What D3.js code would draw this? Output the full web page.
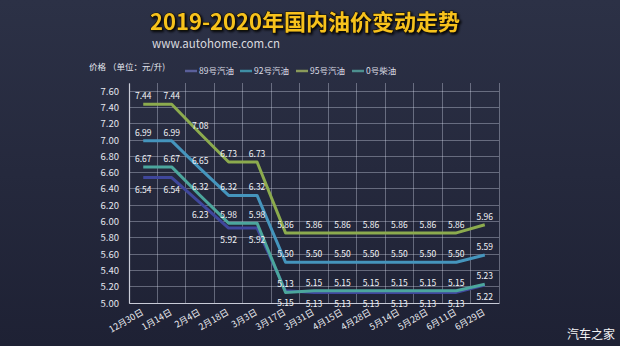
<!DOCTYPE html>
<html><head><meta charset="utf-8">
<script src="https://cdn.jsdelivr.net/npm/d3@7/dist/d3.min.js"></script>
<style>
html,body{margin:0;padding:0;background:#23273a;}
svg{display:block;}
text{font-family:"Noto Sans CJK SC","Noto Sans",sans-serif;}
</style></head>
<body>
<svg id="c" width="620" height="346"></svg>
<script>
const categories = ["12月30日","1月14日","2月4日","2月18日","3月3日","3月17日","3月31日","4月15日","4月28日","5月14日","5月28日","6月11日","6月29日"];
const seriesNames = ["89号汽油","92号汽油","95号汽油","0号柴油"];
const gas89  = [6.54,6.54,6.23,5.92,5.92,5.15,5.13,5.13,5.13,5.13,5.13,5.13,5.22];
const gas92  = [6.99,6.99,6.65,6.32,6.32,5.50,5.50,5.50,5.50,5.50,5.50,5.50,5.59];
const gas95  = [7.44,7.44,7.08,6.73,6.73,5.86,5.86,5.86,5.86,5.86,5.86,5.86,5.96];
const diesel = [6.67,6.67,6.32,5.98,5.98,5.13,5.15,5.15,5.15,5.15,5.15,5.15,5.23];
const yTicks = [5.00,5.20,5.40,5.60,5.80,6.00,6.20,6.40,6.60,6.80,7.00,7.20,7.40,7.60];
const titleText = "2019-2020年国内油价变动走势";
const subTitle = "www.autohome.com.cn";
const yAxisName = "价格 （单位：元/升)";
const watermark = "汽车之家";

const colors = ["#3f479c","#4595bd","#8cab4e","#4ca69d"];
const legendColors = ["#5a5f9a","#3f8ea5","#8a9a5a","#4d8f8f"];
const labelBelow = [true,false,false,false];

(function(){
const svg = d3.select("#c");
const defs = svg.append("defs");
const g = defs.append("linearGradient").attr("id","bg").attr("x1",0).attr("y1",0).attr("x2",0).attr("y2",1);
g.append("stop").attr("offset","0").attr("stop-color","#2c3146");
g.append("stop").attr("offset","1").attr("stop-color","#1e2134");
svg.append("rect").attr("width",620).attr("height",346).attr("fill","url(#bg)");
const sh = defs.append("filter").attr("id","ts").attr("x","-5%").attr("y","-20%").attr("width","110%").attr("height","150%");
sh.append("feDropShadow").attr("dx",1.5).attr("dy",1.5).attr("stdDeviation",1).attr("flood-color","#000").attr("flood-opacity",0.9);

svg.append("text").attr("x",150).attr("y",30).attr("font-size",22).attr("font-weight","bold")
  .attr("fill","#f7c21d").attr("stroke","#1a1408").attr("stroke-width",1.2).attr("paint-order","stroke")
  .attr("filter","url(#ts)").text(titleText);
svg.append("text").attr("x",152).attr("y",48).attr("font-size",11.5).attr("fill","#d9d9df").text(subTitle);

const pL=129, pR=499, pT=83, pB=303;
const x = d3.scaleBand().domain(categories).range([pL,pR]).padding(0);
const y = d3.scaleLinear().domain([5.0,7.7]).range([pB,pT]);
const cx = c => x(c)+x.bandwidth()/2;

const grid = svg.append("g");
grid.selectAll(".h").data(yTicks).join("line")
  .attr("x1",pL).attr("x2",pR).attr("y1",d=>y(d)).attr("y2",d=>y(d))
  .attr("stroke","rgba(220,225,240,0.36)").attr("stroke-width",1).attr("shape-rendering","crispEdges");
const vb = categories.map(c=>x(c)).concat([pR]);
grid.selectAll(".v").data(vb).join("line")
  .attr("x1",d=>d).attr("x2",d=>d).attr("y1",pT).attr("y2",pB)
  .attr("stroke","rgba(220,225,240,0.36)").attr("stroke-width",1).attr("shape-rendering","crispEdges");

const yAxis = d3.axisLeft(y).tickValues(yTicks).tickFormat(d3.format(".2f")).tickSize(0).tickPadding(10);
const ya = svg.append("g").attr("transform",`translate(${pL},0)`).call(yAxis);
ya.select(".domain").attr("stroke","#c9ccd8").attr("stroke-width",1.2);
ya.selectAll("text").attr("fill","#e4e6ee").attr("font-size",9.5).attr("font-family","'Noto Sans CJK SC',sans-serif");

const xAxis = d3.axisBottom(x).tickSize(0).tickPadding(0);
const xa = svg.append("g").attr("transform",`translate(0,${pB})`).call(xAxis);
xa.select(".domain").attr("stroke","#c9ccd8").attr("stroke-width",1.2);
xa.selectAll("text").attr("fill","#eceef3").attr("font-size",9).attr("font-family","'Noto Sans CJK SC',sans-serif")
  .attr("text-anchor","end").attr("dy",0).attr("y",0)
  .attr("transform","translate(1,11) rotate(-30)");

svg.append("text").attr("x",89).attr("y",70).attr("font-size",8.5).attr("fill","#e4e6ee").text(yAxisName);

const legX = [185,240,296,352];
seriesNames.forEach((n,i)=>{
  svg.append("line").attr("x1",legX[i]).attr("x2",legX[i]+12).attr("y1",71).attr("y2",71)
    .attr("stroke",legendColors[i]).attr("stroke-width",2.5);
  svg.append("text").attr("x",legX[i]+14).attr("y",74).attr("font-size",8.5).attr("fill","#dcdde5").text(n);
});

const allSeries = [gas89,gas92,gas95,diesel];
const line = d3.line().x((d,i)=>cx(categories[i])).y(d=>y(d));
allSeries.forEach((s,i)=>{
  svg.append("path").datum(s).attr("d",line).attr("fill","none")
    .attr("stroke",colors[i]).attr("stroke-width",3).attr("stroke-linejoin","round");
});
allSeries.forEach((s,i)=>{
  svg.append("g").selectAll("text").data(s).join("text")
    .attr("x",(d,j)=>cx(categories[j]))
    .attr("y",d=>y(d)+(labelBelow[i]?15:-5))
    .attr("text-anchor","middle").attr("font-size",8.5).attr("fill","#f2f3f7")
    .text(d=>d.toFixed(2));
});

svg.append("text").attr("x",567).attr("y",339).attr("font-size",12).attr("fill","#f4f4f6").text(watermark);
})();
</script>
</body></html>
